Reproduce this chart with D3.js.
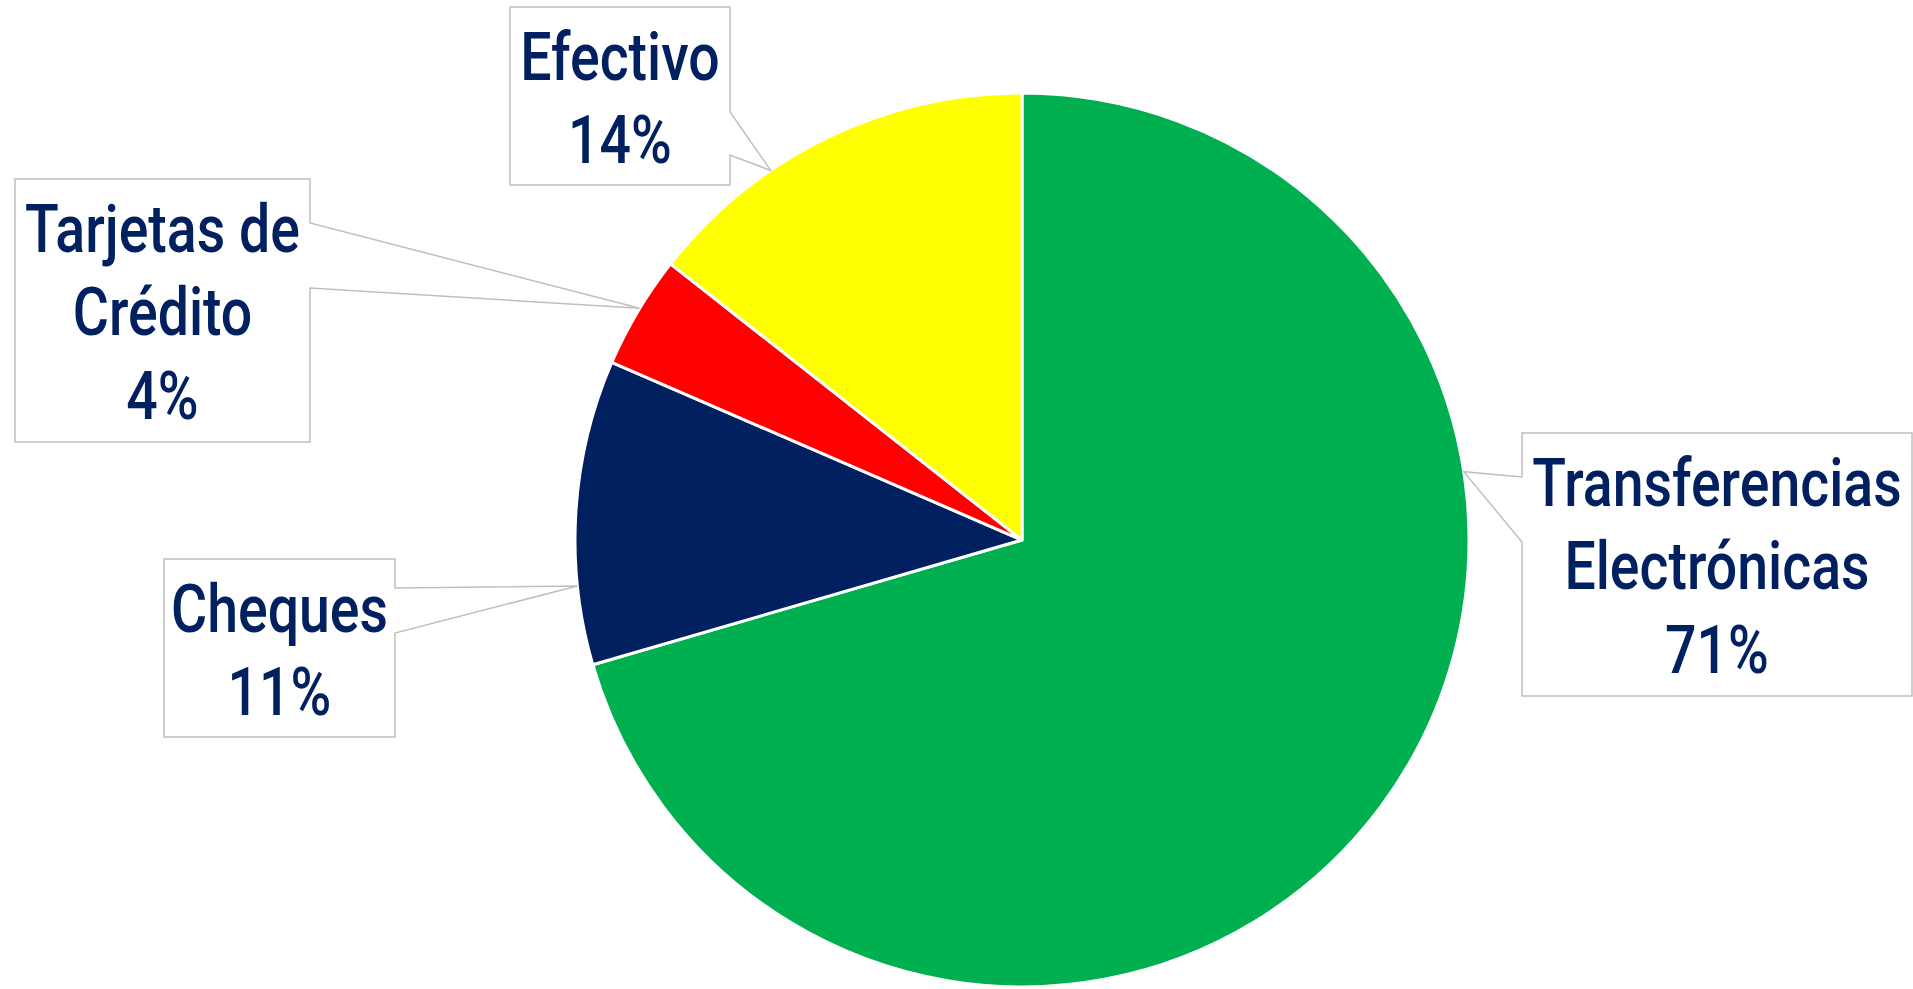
<!DOCTYPE html>
<html>
<head>
<meta charset="utf-8">
<script src="https://cdn.jsdelivr.net/npm/d3@7"></script>
<style>
  body { margin: 0; background: #fff; }
  text { font-family: Roboto, "Noto Sans", sans-serif; }
</style>
</head>
<body>
<div id="chart"></div>
<script>
// data
var categories = ["Transferencias Electrónicas", "Cheques", "Tarjetas de Crédito", "Efectivo"];
var values = [70.5, 11.0, 4.1, 14.4];
var labelLines = [["Transferencias", "Electrónicas"], ["Cheques"], ["Tarjetas de", "Crédito"], ["Efectivo"]];
var colors = ["#00B050", "#002060", "#FF0000", "#FFFF00"];

var width = 1913, height = 989;
var cx = 1022, cy = 540, radius = 447;

// callout boxes (layout only)
var boxes = [
  { x: 1522, y: 433, w: 390, h: 263, side: "left", p1: 477, p2: 542, attach: 0.32 },
  { x: 164, y: 559, w: 231, h: 178, side: "right", p1: 588, p2: 633, attach: 0.26 },
  { x: 15, y: 179, w: 295, h: 263, side: "right", p1: 223, p2: 288, attach: 0.53 },
  { x: 510, y: 7, w: 220, h: 178, side: "right", p1: 112, p2: 155, attach: 0.34 }
];

var svg = d3.select("#chart")
  .append("svg")
  .attr("width", width)
  .attr("height", height);

var total = d3.sum(values);
var pct = d3.format(".0%");

var pie = d3.pie().sort(null).value(function (d) { return d; });
var arcs = pie(values);
var arc = d3.arc().innerRadius(0).outerRadius(radius);

var g = svg.append("g").attr("transform", "translate(" + cx + "," + cy + ")");
g.selectAll("path")
  .data(arcs)
  .enter()
  .append("path")
  .attr("d", arc)
  .attr("fill", function (d, i) { return colors[i]; })
  .attr("stroke", "#fff")
  .attr("stroke-width", 3)
  .attr("stroke-linejoin", "round");

// callouts
arcs.forEach(function (d, i) {
  var b = boxes[i];
  var a = d.startAngle + b.attach * (d.endAngle - d.startAngle);
  var tip = [cx + radius * Math.sin(a), cy - radius * Math.cos(a)];
  var p = d3.path();
  if (b.side === "right") {
    p.moveTo(b.x, b.y);
    p.lineTo(b.x + b.w, b.y);
    p.lineTo(b.x + b.w, b.p1);
    p.lineTo(tip[0], tip[1]);
    p.lineTo(b.x + b.w, b.p2);
    p.lineTo(b.x + b.w, b.y + b.h);
    p.lineTo(b.x, b.y + b.h);
  } else {
    p.moveTo(b.x, b.y);
    p.lineTo(b.x + b.w, b.y);
    p.lineTo(b.x + b.w, b.y + b.h);
    p.lineTo(b.x, b.y + b.h);
    p.lineTo(b.x, b.p2);
    p.lineTo(tip[0], tip[1]);
    p.lineTo(b.x, b.p1);
  }
  p.closePath();
  svg.append("path")
    .attr("d", p.toString())
    .attr("fill", "#fff")
    .attr("stroke", "#BFBFBF")
    .attr("stroke-width", 1.5);

  var lines = labelLines[i].concat([pct(values[i] / total)]);
  var tx = b.x + b.w / 2;
  lines.forEach(function (t, j) {
    svg.append("text")
      .attr("transform", "translate(" + tx + "," + (b.y + 72.5 + j * 83.5) + ") scale(0.84,1)")
      .attr("text-anchor", "middle")
      .attr("fill", "#002060")
      .attr("font-size", 66)
      .attr("font-weight", 500)
      .text(t);
  });
});
</script>
</body>
</html>
